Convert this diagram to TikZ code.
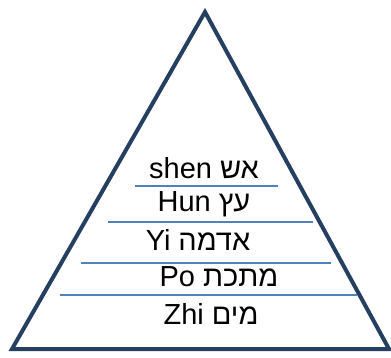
\documentclass[tikz,border=0pt]{standalone}
\usepackage{fontspec}
\setmainfont{Liberation Sans}
\newfontfamily\hebfont[Script=Hebrew]{Liberation Sans}
\TeXXeTstate=1
\usetikzlibrary{positioning}
\definecolor{pyrnavy}{HTML}{243F60}
\definecolor{sepblue}{HTML}{4F81BD}
\newcommand{\heb}[1]{{\hebfont\beginR #1\endR}}

\begin{document}
\begin{tikzpicture}[x=1pt, y=-1pt,
                pyramid/.style={draw=pyrnavy, line width=4pt, line join=miter},
                sepline/.style={draw=sepblue, line width=1.4pt},
                level/.style={font=\fontsize{29}{33}\selectfont, inner sep=0pt}
            ]
            \useasboundingbox (0,0) rectangle (391,358);

            % Dreieck
            \coordinate (top) at (205,12);
            \coordinate (bl) at (12,349);
            \coordinate (br) at (389,349);
            \draw[pyramid] (top) -- (br) -- (bl) -- cycle;

            % Stufen
            \node[level] (shen) at (204,168) {shen \heb{אש}};
            \node[level] (hun) at (204,204) {Hun \heb{עץ}};
            \node[level] (yi) at (198,240) {Yi \heb{אדמה}};
            \node[level] (po) at (219,277) {Po \heb{מתכת}};
            \node[level] (zhi) at (211,314) {Zhi \heb{מים}};

            % Trennlinien
            \draw[sepline] (135,186) -- (278,186);
            \draw[sepline] (108,222) -- (313,222);
            \draw[sepline] (81,263) -- (331,263);
            \draw[sepline] (60,295) -- (357,295);

        \end{tikzpicture}
\end{document}
